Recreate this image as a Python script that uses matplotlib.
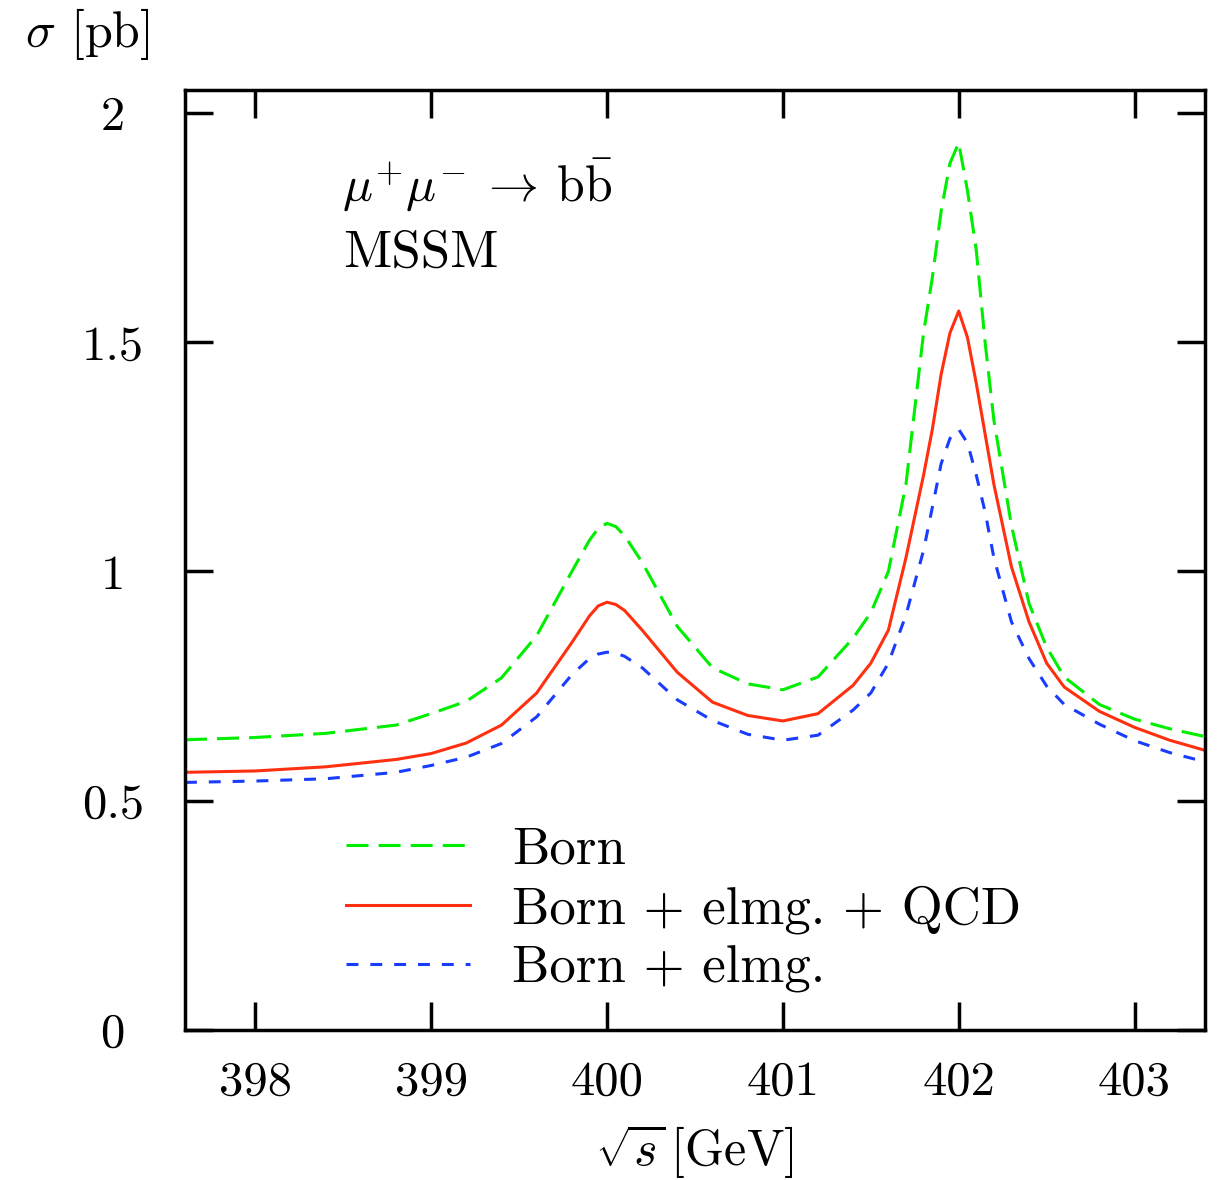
import numpy as np
import matplotlib
matplotlib.use("Agg")
import matplotlib.pyplot as plt

plt.rcParams['mathtext.fontset'] = 'cm'
plt.rcParams['font.family'] = 'serif'
plt.rcParams['font.serif'] = ['cmr10', 'DejaVu Serif']
plt.rcParams['axes.formatter.use_mathtext'] = True

# --- data (sqrt(s) in GeV, sigma in pb) ---
sqrt_s = [397.6, 398.0, 398.4, 398.8, 399.0, 399.2, 399.4, 399.6, 399.8, 399.9,
          399.95, 400.0, 400.05, 400.1, 400.2, 400.4, 400.6, 400.8, 401.0, 401.2,
          401.4, 401.5, 401.6, 401.7, 401.8, 401.85, 401.9, 401.95, 402.0, 402.05,
          402.1, 402.15, 402.2, 402.3, 402.4, 402.5, 402.6, 402.8, 403.0, 403.2,
          403.4]

sigma_born = [0.633, 0.638, 0.647, 0.665, 0.690, 0.717, 0.768, 0.860, 1.000, 1.068,
              1.094, 1.105, 1.098, 1.078, 1.020, 0.880, 0.790, 0.755, 0.742, 0.770,
              0.855, 0.910, 1.000, 1.190, 1.520, 1.641, 1.786, 1.890, 1.935, 1.830,
              1.700, 1.500, 1.330, 1.100, 0.930, 0.835, 0.770, 0.710, 0.678, 0.657,
              0.640]

sigma_full = [0.562, 0.565, 0.574, 0.590, 0.603, 0.626, 0.665, 0.735, 0.845, 0.903,
              0.925, 0.933, 0.928, 0.915, 0.872, 0.780, 0.715, 0.686, 0.674, 0.690,
              0.752, 0.800, 0.872, 1.030, 1.210, 1.310, 1.430, 1.520, 1.568, 1.510,
              1.410, 1.300, 1.190, 1.010, 0.890, 0.800, 0.748, 0.695, 0.660, 0.632,
              0.610]

sigma_elmg = [0.540, 0.543, 0.548, 0.562, 0.577, 0.595, 0.625, 0.683, 0.775, 0.810,
              0.820, 0.824, 0.822, 0.815, 0.790, 0.720, 0.675, 0.645, 0.632, 0.643,
              0.698, 0.735, 0.800, 0.905, 1.046, 1.140, 1.235, 1.290, 1.310, 1.280,
              1.210, 1.130, 1.030, 0.890, 0.810, 0.750, 0.710, 0.667, 0.631, 0.605,
              0.585]

xticks = [398, 399, 400, 401, 402, 403]
yticks = [0, 0.5, 1, 1.5, 2]
ytick_labels = ["0", "0.5", "1", "1.5", "2"]

fig = plt.figure(figsize=(12.25, 11.8), dpi=100)
ax = fig.add_axes([0.151, 0.1271, 0.8326, 0.7966])

lw = 2.2
ax.plot(sqrt_s, sigma_born, color='#00ee00', lw=lw, dashes=(7.2, 3.3), label='Born')
ax.plot(sqrt_s, sigma_full, color='#ff3010', lw=lw, label='Born + elmg. + QCD')
ax.plot(sqrt_s, sigma_elmg, color='#1a3cff', lw=lw, dashes=(3.9, 3.9), label='Born + elmg.')

ax.set_xlim(397.6, 403.4)
ax.set_ylim(0, 2.05)
ax.set_xticks(xticks)
ax.set_xticklabels([str(t) for t in xticks])
ax.set_yticks(yticks)
ax.set_yticklabels(ytick_labels)

for s in ax.spines.values():
    s.set_linewidth(2.5)
ax.tick_params(direction='in', length=20, width=2.5, top=True, right=True,
               labelsize=35, pad=22)
ax.tick_params(axis='y', pad=52)
for lab in ax.get_yticklabels():
    lab.set_horizontalalignment('center')

ax.text(0.154, 0.899, r"$\mu^{+}\mu^{-}\:\rightarrow\:\mathrm{b}\bar{\mathrm{b}}$",
        transform=ax.transAxes, fontsize=36, va='center', ha='left')
ax.text(0.155, 0.826, "MSSM", transform=ax.transAxes, fontsize=38,
        va='center', ha='left')

ax.legend(loc='lower left', bbox_to_anchor=(0.111, -0.011), frameon=False,
          fontsize=38, handlelength=2.35, handletextpad=0.8, labelspacing=0.22)

fig.text(0.071, 0.971, r"$\sigma$ [pb]", fontsize=36, ha='center', va='center')
fig.text(0.567, 0.025, r"$\sqrt{s}\,$[GeV]", fontsize=36, ha='center', va='center')

fig.savefig("out.png", dpi=100)
